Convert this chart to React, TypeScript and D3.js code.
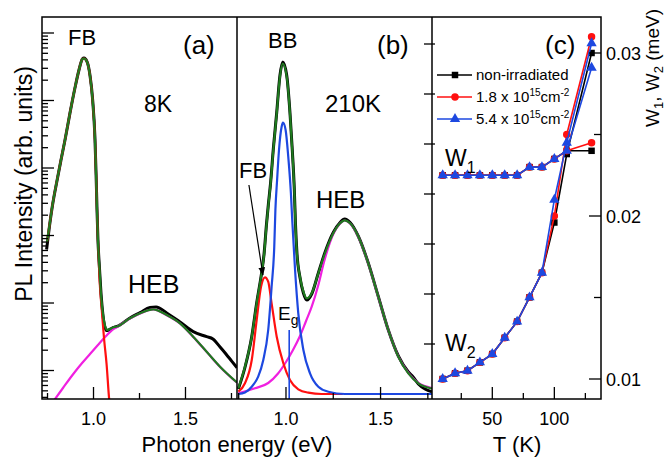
import React from "react";
import * as d3 from "d3";

type P = [number, number];

// ---------- Panel (a): 8 K, PL intensity (log) vs photon energy (eV) ----------
const aGreen: P[] = [
  [0.747, 80], [0.761, 143], [0.777, 283], [0.802, 664], [0.823, 1315], [0.845, 2600],
  [0.872, 6530], [0.899, 15300], [0.921, 28300], [0.94, 41200], [0.948, 41900], [0.965, 37200],
  [0.981, 23100], [0.995, 10200], [1.008, 2600], [1.014, 787], [1.019, 239], [1.024, 85.8],
  [1.033, 30.8], [1.041, 13.1], [1.052, 6.64], [1.063, 4.56], [1.073, 3.98], [1.084, 4.05],
  [1.106, 4.34], [1.128, 4.49], [1.198, 5.93], [1.253, 7.04], [1.325, 8.07], [1.398, 6.64],
  [1.47, 5.0], [1.542, 3.17], [1.615, 1.9], [1.688, 1.14], [1.78, 0.664],
];
const aBlack: P[] = [
  [0.745, 62], [0.761, 140], [0.777, 280], [0.802, 660], [0.823, 1300], [0.845, 2600],
  [0.872, 6500], [0.899, 15300], [0.921, 28300], [0.94, 41500], [0.948, 42500], [0.965, 37500],
  [0.981, 23500], [0.995, 10500], [1.008, 2700], [1.014, 800], [1.019, 245], [1.024, 88],
  [1.033, 31], [1.041, 13.5], [1.052, 6.4], [1.063, 4.3], [1.073, 3.9], [1.084, 4.0],
  [1.106, 4.3], [1.128, 4.5], [1.198, 6.0], [1.253, 7.2], [1.307, 8.58], [1.34, 8.72],
  [1.398, 7.11], [1.47, 5.23], [1.542, 3.76], [1.615, 3.17], [1.649, 2.93], [1.688, 2.23],
  [1.72, 1.76], [1.751, 1.38], [1.78, 1.1],
];
const aRed: P[] = [
  [0.747, 80], [0.761, 143], [0.777, 283], [0.802, 664], [0.823, 1315], [0.845, 2600],
  [0.872, 6530], [0.899, 15300], [0.921, 28300], [0.94, 41200], [0.948, 41900], [0.965, 37200],
  [0.981, 23100], [0.995, 10200], [1.008, 2600], [1.014, 787], [1.019, 239], [1.024, 85.8],
  [1.033, 21.9], [1.045, 7.88], [1.057, 3.03], [1.071, 1.25], [1.085, 0.378], [1.091, 0.26],
];
const aMagenta: P[] = [
  [0.783, 0.353], [0.834, 0.551], [0.89, 0.887], [0.938, 1.29], [0.981, 1.76], [1.024, 2.39],
  [1.068, 3.24], [1.101, 3.98], [1.128, 4.41], [1.198, 5.9], [1.253, 7.0], [1.325, 8.03],
  [1.398, 6.6], [1.47, 4.97], [1.542, 3.15], [1.615, 1.89], [1.688, 1.13], [1.78, 0.66],
];
const aTicksX = [0.75, 1.0, 1.25, 1.5, 1.75];
const aTickLabels = [1.0, 1.5];

// ---------- Panel (b): 210 K, PL intensity (linear) ----------
const bGreen: P[] = [
  [0.748, 0.114], [0.783, 0.546], [0.819, 1.146], [0.845, 1.814], [0.871, 2.414], [0.884, 2.78],
  [0.897, 3.38], [0.907, 3.78], [0.918, 4.18], [0.933, 4.88], [0.951, 5.614], [0.968, 6.346],
  [0.983, 6.61], [1.004, 6.346], [1.021, 5.614], [1.033, 4.88], [1.044, 4.08], [1.05, 3.4],
  [1.058, 2.8], [1.074, 2.346], [1.092, 2.046], [1.11, 1.914], [1.136, 2.014], [1.171, 2.414],
  [1.206, 2.814], [1.25, 3.214], [1.286, 3.414], [1.31, 3.474], [1.339, 3.414], [1.383, 3.146],
  [1.435, 2.614], [1.488, 1.946], [1.541, 1.28], [1.594, 0.746], [1.647, 0.414], [1.7, 0.214],
  [1.772, 0.11],
];
const bBlack: P[] = [
  [0.748, 0.1], [0.783, 0.53], [0.819, 1.15], [0.845, 1.82], [0.871, 2.42], [0.884, 2.8],
  [0.897, 3.4], [0.907, 3.8], [0.918, 4.2], [0.933, 4.9], [0.951, 5.63], [0.968, 6.37],
  [0.983, 6.64], [1.004, 6.37], [1.021, 5.63], [1.033, 4.9], [1.044, 4.1], [1.05, 3.42],
  [1.058, 2.82], [1.074, 2.33], [1.092, 2.02], [1.11, 1.88], [1.136, 2.0], [1.171, 2.42],
  [1.206, 2.83], [1.25, 3.23], [1.286, 3.43], [1.31, 3.5], [1.339, 3.43], [1.383, 3.15],
  [1.435, 2.62], [1.488, 1.95], [1.541, 1.28], [1.594, 0.76], [1.647, 0.44], [1.672, 0.34],
  [1.7, 0.2], [1.735, 0.1], [1.772, 0.046],
];
const bBlue: P[] = [
  [0.748, 0], [0.783, 0.03], [0.819, 0.146], [0.853, 0.346], [0.88, 0.68], [0.906, 1.28],
  [0.924, 2.146], [0.938, 2.946], [0.944, 3.68], [0.953, 4.28], [0.963, 4.88], [0.977, 5.346],
  [0.984, 5.426], [0.998, 5.28], [1.012, 4.746], [1.026, 4.014], [1.033, 3.48], [1.048, 2.48],
  [1.065, 1.614], [1.092, 0.88], [1.127, 0.414], [1.171, 0.146], [1.224, 0.046], [1.312, 0],
  [1.772, 0],
];
const bRed: P[] = [
  [0.748, 0.046], [0.783, 0.214], [0.819, 0.68], [0.845, 1.48], [0.868, 2.146], [0.889, 2.334],
  [0.906, 2.246], [0.924, 1.814], [0.951, 1.146], [0.986, 0.614], [1.021, 0.28], [1.065, 0.094],
  [1.118, 0.026], [1.189, 0], [1.3, 0],
];
const bMagenta: P[] = [
  [0.748, 0.014], [0.836, 0.114], [0.906, 0.22], [0.958, 0.41], [1.0, 0.64], [1.037, 0.88],
  [1.074, 1.16], [1.106, 1.46], [1.136, 1.746], [1.171, 2.18], [1.201, 2.64], [1.25, 3.2],
  [1.286, 3.41], [1.31, 3.47], [1.339, 3.41], [1.383, 3.14], [1.435, 2.61], [1.488, 1.94],
  [1.541, 1.28], [1.594, 0.75], [1.647, 0.42], [1.7, 0.22], [1.772, 0.12],
];
const bTicksX = [0.75, 1.0, 1.25, 1.5, 1.75];
const bTickLabels = [1.0, 1.5];
const bTicksY = [1, 2, 3, 4, 5, 6, 7];
const egEnergy = 1.017;
const fbArrow: P[] = [[0.804, 4.18], [0.878, 2.38]];

// ---------- Panel (c): widths W1, W2 (meV) vs T (K) ----------
const temps = [10, 20, 30, 40, 50, 60, 70, 80, 90, 100, 110, 130];
const w1Non = [0.0225, 0.0225, 0.0225, 0.0225, 0.0225, 0.0225, 0.0225, 0.023, 0.023, 0.0235, 0.024, 0.024];
const w1Low = [0.0225, 0.0225, 0.0225, 0.0225, 0.0225, 0.0225, 0.0225, 0.023, 0.023, 0.0235, 0.024, 0.0245];
const w1High = [0.0225, 0.0225, 0.0225, 0.0225, 0.0225, 0.0225, 0.0225, 0.023, 0.023, 0.0235, 0.024, 0.0291];
const w2Non = [0.01, 0.01035, 0.01051, 0.01102, 0.01153, 0.01253, 0.01352, 0.01501, 0.01652, 0.0196, 0.0238, 0.03];
const w2Low = [0.01, 0.01035, 0.01051, 0.01102, 0.01153, 0.01253, 0.01352, 0.01501, 0.01652, 0.02, 0.025, 0.031];
const w2High = [0.01, 0.01035, 0.01051, 0.01102, 0.01153, 0.01253, 0.01352, 0.01501, 0.01652, 0.021, 0.0245, 0.0306];
const cTicksX = [25, 50, 75, 100, 125];
const cTickLabels = [50, 100];
const cTicksY = [0.01, 0.015, 0.02, 0.025, 0.03];
const cTickLabelsY = [0.01, 0.02, 0.03];

const FONT = "'Liberation Sans', Arial, Helvetica, sans-serif";
const GREEN = "#1f7a1f";
const RED = "#ff1010";
const BLUE = "#1d48e0";
const MAGENTA = "#f020e0";

export default function App() {
  const W = 669, H = 461;
  const top = 17, bottom = 399;
  const ax0 = 42, ax1 = 237, bx1 = 432, cx1 = 601;

  const xA = d3.scaleLinear().domain([0.72, 1.78]).range([ax0, ax1]);
  const yA = d3.scaleLog().domain([Math.pow(10, -0.422), Math.pow(10, 5.237)]).range([bottom, top]);
  const xB = d3.scaleLinear().domain([0.741, 1.772]).range([ax1, bx1]);
  const yB = d3.scaleLinear().domain([-0.1, 7.54]).range([bottom, top]);
  const xC = d3.scaleLinear().domain([1.4, 137.6]).range([bx1, cx1]);
  const yC = d3.scaleLinear().domain([0.03 - (399 - 53) / 16300, 0.03 + (53 - 17) / 16300]).range([bottom, top]);

  const lineA = d3.line<P>().x(d => xA(d[0])).y(d => yA(d[1])).curve(d3.curveMonotoneX);
  const lineB = d3.line<P>().x(d => xB(d[0])).y(d => yB(d[1])).curve(d3.curveMonotoneX);
  const lineC = d3.line<number>().x((_, i) => xC(temps[i])).y(d => yC(d));

  // log ticks for panel (a)
  const logTicks: { v: number; major: boolean }[] = [];
  const [lo, hi] = yA.domain();
  for (let e = -1; e <= 5; e++) {
    for (let m = 1; m <= 9; m++) {
      const v = m * Math.pow(10, e);
      if (v >= lo && v <= hi) logTicks.push({ v, major: m === 1 });
    }
  }

  const series = [
    { name: "non-irradiated", color: "#000", sym: d3.symbolSquare, size: 42, w1: w1Non, w2: w2Non },
    { name: "low", color: RED, sym: d3.symbolCircle, size: 44, w1: w1Low, w2: w2Low },
    { name: "high", color: BLUE, sym: d3.symbolTriangle, size: 46, w1: w1High, w2: w2High },
  ];

  const legendRows = [75, 97, 119];

  return (
    <svg width={W} height={H} style={{ position: "absolute", left: 0, top: 0, background: "#fff" }} fontFamily={FONT}>
      <defs>
        <clipPath id="clipA"><rect x={ax0} y={top} width={ax1 - ax0} height={bottom - top} /></clipPath>
        <clipPath id="clipB"><rect x={ax1} y={top} width={bx1 - ax1} height={bottom - top} /></clipPath>
        <clipPath id="clipC"><rect x={bx1} y={top} width={cx1 - bx1} height={bottom - top} /></clipPath>
        <marker id="arrow" viewBox="0 0 10 10" refX="9" refY="5" markerWidth="7" markerHeight="7" orient="auto">
          <path d="M0,1 L10,5 L0,9 z" fill="#000" />
        </marker>
      </defs>
      <rect width={W} height={H} fill="#fff" />

      {/* Panel (a) curves */}
      <g clipPath="url(#clipA)" fill="none" strokeLinejoin="round">
        <path d={lineA(aBlack)!} stroke="#000" strokeWidth={3} />
        <path d={lineA(aMagenta)!} stroke={MAGENTA} strokeWidth={2.2} />
        <path d={lineA(aRed)!} stroke={RED} strokeWidth={2.2} />
        <path d={lineA(aGreen)!} stroke={GREEN} strokeWidth={2.2} />
      </g>

      {/* Panel (b) curves */}
      <g clipPath="url(#clipB)" fill="none" strokeLinejoin="round">
        <path d={lineB(bBlack)!} stroke="#000" strokeWidth={3} />
        <path d={lineB(bMagenta)!} stroke={MAGENTA} strokeWidth={2.2} />
        <path d={lineB(bRed)!} stroke={RED} strokeWidth={2.2} />
        <path d={lineB(bBlue)!} stroke={BLUE} strokeWidth={2.2} />
        <path d={lineB(bGreen)!} stroke={GREEN} strokeWidth={2.2} />
        <line x1={xB(egEnergy)} x2={xB(egEnergy)} y1={yB(1.28)} y2={bottom} stroke={BLUE} strokeWidth={1.6} />
      </g>
      <line x1={xB(fbArrow[0][0])} y1={yB(fbArrow[0][1])} x2={xB(fbArrow[1][0])} y2={yB(fbArrow[1][1])}
        stroke="#000" strokeWidth={1.2} markerEnd="url(#arrow)" />

      {/* Panel (c) lines and markers */}
      <g clipPath="url(#clipC)">
        {series.map(s => (
          <g key={s.name}>
            <path d={lineC(s.w1)!} fill="none" stroke={s.color} strokeWidth={1.6} />
            <path d={lineC(s.w2)!} fill="none" stroke={s.color} strokeWidth={1.6} />
            {[...s.w1, ...s.w2].map((v, i) => (
              <path key={i} d={d3.symbol().type(s.sym).size(s.size)()!}
                transform={`translate(${xC(temps[i % temps.length])},${yC(v)})`} fill={s.color} />
            ))}
          </g>
        ))}
      </g>

      {/* Frames */}
      <g fill="none" stroke="#000" strokeWidth={1.5}>
        <rect x={ax0} y={top} width={cx1 - ax0} height={bottom - top} />
        <line x1={ax1} x2={ax1} y1={top} y2={bottom} />
        <line x1={bx1} x2={bx1} y1={top} y2={bottom} />
      </g>

      {/* Axis ticks */}
      <g stroke="#000" strokeWidth={1.3}>
        {logTicks.map((t, i) => (
          <line key={"ly" + i} x1={ax0} x2={ax0 + (t.major ? 12 : 6)} y1={yA(t.v)} y2={yA(t.v)} />
        ))}
        {aTicksX.map(t => (
          <line key={"ax" + t} x1={xA(t)} x2={xA(t)} y1={bottom} y2={bottom - (aTickLabels.includes(t) ? 12 : 6)} />
        ))}
        {bTicksX.map(t => (
          <line key={"bx" + t} x1={xB(t)} x2={xB(t)} y1={bottom} y2={bottom - (bTickLabels.includes(t) ? 12 : 6)} />
        ))}
        {bTicksY.map(t => (
          <g key={"by" + t}>
            <line x1={bx1 - 8} x2={bx1} y1={yB(t)} y2={yB(t)} />
            <line x1={bx1} x2={bx1 + 3} y1={yB(t)} y2={yB(t)} />
          </g>
        ))}
        {cTicksX.map(t => (
          <line key={"cx" + t} x1={xC(t)} x2={xC(t)} y1={bottom} y2={bottom - (cTickLabels.includes(t) ? 12 : 6)} />
        ))}
        {cTicksY.map(t => (
          <line key={"cy" + t} x1={cx1} x2={cx1 - (cTickLabelsY.includes(t) ? 12 : 7)} y1={yC(t)} y2={yC(t)} />
        ))}
      </g>

      {/* Tick labels */}
      <g fontSize={18} fill="#000" textAnchor="middle">
        {aTickLabels.map(t => <text key={"al" + t} x={xA(t)} y={425}>{t.toFixed(1)}</text>)}
        {bTickLabels.map(t => <text key={"bl" + t} x={xB(t)} y={425}>{t.toFixed(1)}</text>)}
        {cTickLabels.map(t => <text key={"cl" + t} x={xC(t)} y={425}>{t}</text>)}
      </g>
      <g fontSize={18} fill="#000" textAnchor="start">
        {cTickLabelsY.map(t => <text key={"cyl" + t} x={606} y={yC(t) + 6.5}>{t.toFixed(2)}</text>)}
      </g>

      {/* Axis titles */}
      <text x={237} y={452} fontSize={22} textAnchor="middle">Photon energy (eV)</text>
      <text x={517} y={452} fontSize={22} textAnchor="middle">T (K)</text>
      <text transform="translate(32,184) rotate(-90)" fontSize={23} textAnchor="middle">PL Intensity (arb. units)</text>
      <text transform="translate(659,68) rotate(-90)" fontSize={19} textAnchor="middle">
        W<tspan fontSize={13} dy={4}>1</tspan><tspan dy={-4}>, W</tspan><tspan fontSize={13} dy={4}>2</tspan><tspan dy={-4}> (meV)</tspan>
      </text>

      {/* Panel annotations */}
      <g fill="#000">
        <text x={68} y={45} fontSize={22}>FB</text>
        <text x={183} y={54} fontSize={26}>(a)</text>
        <text x={144} y={112} fontSize={23}>8K</text>
        <text x={128} y={293} fontSize={25}>HEB</text>

        <text x={268} y={48} fontSize={22}>BB</text>
        <text x={377} y={54} fontSize={26}>(b)</text>
        <text x={325} y={112} fontSize={24}>210K</text>
        <text x={239} y={178} fontSize={22}>FB</text>
        <text x={316} y={208} fontSize={24}>HEB</text>
        <text x={278} y={320} fontSize={19}>E<tspan fontSize={14} dy={5}>g</tspan></text>

        <text x={545} y={54} fontSize={26}>(c)</text>
        <text x={445} y={166} fontSize={23}>W<tspan fontSize={16} dy={7}>1</tspan></text>
        <text x={445} y={351} fontSize={23}>W<tspan fontSize={16} dy={7}>2</tspan></text>
      </g>

      {/* Legend */}
      <g>
        {series.map((s, i) => (
          <g key={"lg" + s.name}>
            <line x1={437} x2={472} y1={legendRows[i]} y2={legendRows[i]} stroke={s.color} strokeWidth={1.6} />
            <path d={d3.symbol().type(s.sym).size(s.size)()!} transform={`translate(455,${legendRows[i]})`} fill={s.color} />
          </g>
        ))}
        <text x={476} y={legendRows[0] + 5} fontSize={15}>non-irradiated</text>
        <text x={476} y={legendRows[1] + 5} fontSize={15}>1.8 x 10<tspan fontSize={10} dy={-6}>15</tspan><tspan dy={6}>cm</tspan><tspan fontSize={10} dy={-6}>-2</tspan></text>
        <text x={476} y={legendRows[2] + 5} fontSize={15}>5.4 x 10<tspan fontSize={10} dy={-6}>15</tspan><tspan dy={6}>cm</tspan><tspan fontSize={10} dy={-6}>-2</tspan></text>
      </g>
    </svg>
  );
}
